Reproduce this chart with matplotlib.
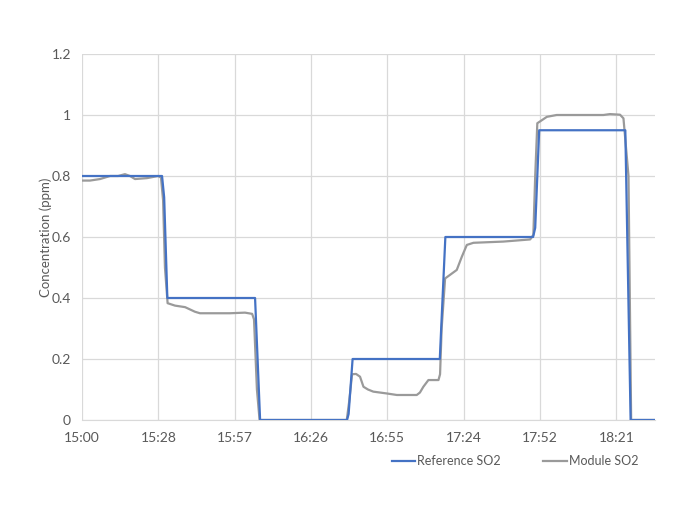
import matplotlib
matplotlib.use("Agg")
import matplotlib.pyplot as plt

plt.rcParams['font.family'] = ['Lato', 'DejaVu Sans']

# minutes after 15:00
ref_t = [0, 30.2, 31.0, 32.2, 65.3, 67.2, 100.0, 100.6, 102.1, 135.0, 137.1,
         170.2, 171.0, 172.5, 205.0, 207.0, 216.2]
ref_so2 = [0.8, 0.8, 0.73, 0.4, 0.4, 0.0, 0.0, 0.02, 0.2, 0.2, 0.6,
           0.6, 0.63, 0.95, 0.95, 0.0, 0.0]

mod_t = [0, 3.0, 6.8, 10.6, 13.6, 16.2, 18.1, 20.0, 24.5, 28.7, 29.8, 30.6,
         31.3, 32.3, 35.1, 38.9, 42.6, 44.5, 55.8, 61.5, 64.2, 64.9, 66.0,
         67.0, 99.9, 100.8, 101.9, 103.4, 104.9, 106.2, 107.9, 109.9, 115.0,
         118.8, 126.3, 127.5, 128.8, 130.7, 134.5, 135.1, 135.7, 137.0, 139.2,
         141.4, 143.3, 145.2, 147.7, 159.0, 169.1, 170.3, 171.0, 171.8, 175.4,
         179.1, 196.7, 199.2, 203.0, 204.3, 206.2, 207.2, 216.2]
mod_so2 = [0.785, 0.785, 0.79, 0.80, 0.80, 0.806, 0.80, 0.79, 0.793, 0.80,
           0.795, 0.72, 0.5, 0.383, 0.375, 0.37, 0.355, 0.35, 0.35, 0.352,
           0.348, 0.33, 0.1, 0.0, 0.0, 0.06, 0.15, 0.151, 0.142, 0.109, 0.1,
           0.093, 0.087, 0.082, 0.082, 0.09, 0.109, 0.131, 0.131, 0.15, 0.3,
           0.464, 0.478, 0.492, 0.535, 0.574, 0.581, 0.585, 0.592, 0.607, 0.8,
           0.973, 0.994, 1.0, 1.0, 1.003, 1.001, 0.989, 0.8, 0.0, 0.0]

xticks = [0, 28.8, 57.6, 86.4, 115.2, 144.0, 172.8, 201.6]
xlabels = ['15:00', '15:28', '15:57', '16:26', '16:55', '17:24', '17:52', '18:21']
yticks = [0, 0.2, 0.4, 0.6, 0.8, 1.0, 1.2]
ylabels = ['0', '0.2', '0.4', '0.6', '0.8', '1', '1.2']

fig = plt.figure(figsize=(7, 5.22), dpi=100)
ax = fig.add_axes([82 / 700, 1 - 420 / 522, (655 - 82) / 700, (420 - 54) / 522])

ax.plot(ref_t, ref_so2, color='#4472C4', lw=1.6, label='Reference SO2', zorder=3)
ax.plot(mod_t, mod_so2, color='#9A9A9A', lw=1.6, label='Module SO2', zorder=2)

ax.set_xlim(0, 216.2)
ax.set_ylim(0, 1.2)
ax.set_xticks(xticks)
ax.set_xticklabels(xlabels)
ax.set_yticks(yticks)
ax.set_yticklabels(ylabels)
ax.tick_params(length=0, labelsize=10, colors='#595959')
ax.tick_params(axis='x', pad=9)
ax.tick_params(axis='y', pad=8)
ax.grid(True, color='#D9D9D9', lw=0.9)
ax.set_axisbelow(True)
for s in ['top', 'right', 'left']:
    ax.spines[s].set_visible(False)
ax.spines['bottom'].set_color('#D9D9D9')
ax.set_ylabel('Concentration (ppm)', fontsize=9.5, color='#595959')
ax.yaxis.set_label_coords((52 - 82) / 573, 0.5)

fig.legend(loc='center', bbox_to_anchor=(515 / 700, 1 - 461 / 522), ncol=2,
           frameon=False, fontsize=9, handlelength=1.9, handletextpad=0.15,
           columnspacing=3.4, labelcolor='#595959')

fig.savefig('out.png', dpi=100)
